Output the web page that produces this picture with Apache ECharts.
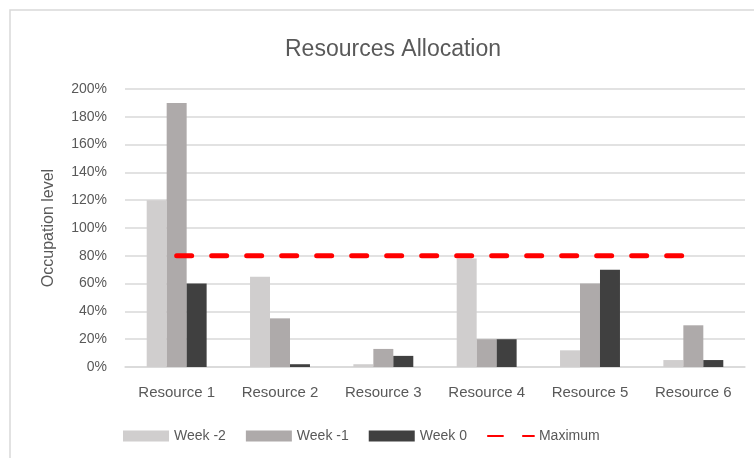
<!DOCTYPE html>
<html>
<head>
<meta charset="utf-8">
<script src="https://cdn.jsdelivr.net/npm/echarts@6/dist/echarts.min.js"></script>
<style>
  html, body { margin: 0; padding: 0; background: #fff; }
  #chart { width: 754px; height: 458px; }
</style>
</head>
<body>
<div id="chart"></div>
<script>
// Occupation per resource over the last three weeks (percent)
const categories = ['Resource 1', 'Resource 2', 'Resource 3', 'Resource 4', 'Resource 5', 'Resource 6'];
const weekMinus2 = [120, 65, 2, 78, 12, 5];
const weekMinus1 = [190, 35, 13, 20, 60, 30];
const week0 = [60, 2, 8, 20, 70, 5];
const maximum = [80, 80, 80, 80, 80, 80];
const yTicks = { min: 0, max: 200, interval: 20 };

const font = '"Liberation Sans", Arial, sans-serif';
const textColor = '#595959';

const chart = echarts.init(document.getElementById('chart'), null, { renderer: 'canvas' });

const barSeries = (name, data, color) => ({
  name, type: 'bar', data,
  itemStyle: { color },
  barGap: 0,
  barCategoryGap: '42%'
});

chart.setOption({
  animation: false,
  backgroundColor: '#fff',
  graphic: [{
    type: 'rect',
    shape: { x: 10, y: 10, width: 760, height: 460 },
    style: { fill: 'none', stroke: '#d9d9d9', lineWidth: 1.5 },
    silent: true
  }],
  title: {
    text: 'Resources Allocation',
    left: 280,
    top: 33,
    textStyle: { fontFamily: font, fontSize: 23, fontWeight: 'normal', color: textColor }
  },
  legend: {
    bottom: 10,
    left: 118,
    itemWidth: 46,
    itemHeight: 11,
    itemGap: 20,
    textStyle: { fontFamily: font, fontSize: 14, color: textColor },
    data: [
      { name: 'Week -2', icon: 'rect' },
      { name: 'Week -1', icon: 'rect' },
      { name: 'Week 0', icon: 'rect' },
      { name: 'Maximum', itemStyle: { opacity: 0 } }
    ]
  },
  grid: { left: 125, right: 9, top: 89, bottom: 91 },
  xAxis: {
    type: 'category',
    data: categories,
    axisLine: { lineStyle: { color: '#d9d9d9', width: 1.5 } },
    axisTick: { show: false },
    axisLabel: { margin: 18, fontFamily: font, fontSize: 15, color: textColor }
  },
  yAxis: {
    type: 'value',
    min: yTicks.min,
    max: yTicks.max,
    interval: yTicks.interval,
    name: 'Occupation level',
    nameLocation: 'middle',
    nameGap: 68,
    nameTextStyle: { fontFamily: font, fontSize: 16, color: textColor },
    axisLine: { show: false },
    axisTick: { show: false },
    splitLine: { lineStyle: { color: '#d9d9d9', width: 1.5 } },
    axisLabel: { margin: 18, fontFamily: font, fontSize: 14, color: textColor, formatter: '{value}%' }
  },
  series: [
    barSeries('Week -2', weekMinus2, '#d0cece'),
    barSeries('Week -1', weekMinus1, '#aeaaaa'),
    barSeries('Week 0', week0, '#404040'),
    {
      name: 'Maximum', type: 'line', data: maximum,
      symbol: 'none',
      itemStyle: { color: '#ff0000' },
      lineStyle: { color: '#ff0000', width: 5, type: [15, 20], cap: 'round' },
      z: 5
    }
  ]
});
</script>
</body>
</html>
